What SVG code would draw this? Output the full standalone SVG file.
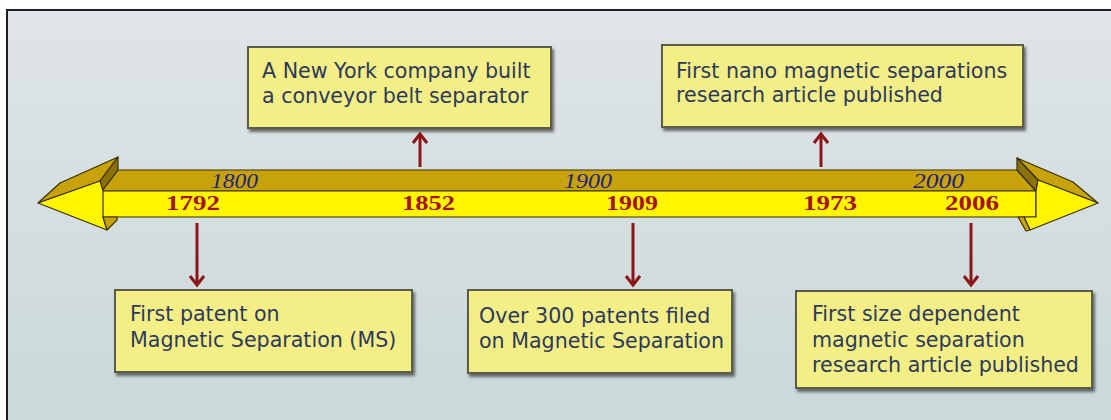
<svg xmlns="http://www.w3.org/2000/svg" width="1111" height="420" viewBox="0 0 1111 420">
<defs>
<linearGradient id="bg" x1="0" y1="0" x2="0" y2="1">
<stop offset="0" stop-color="#e0e5e7"/>
<stop offset="1" stop-color="#c9d8d8"/>
</linearGradient>
<filter id="sh" x="-5%" y="-5%" width="115%" height="130%">
<feDropShadow dx="2" dy="3" stdDeviation="1.5" flood-color="#333" flood-opacity="0.7"/>
</filter>
<marker id="ah" viewBox="0 0 14 16" refX="11" refY="8" markerWidth="14" markerHeight="16" markerUnits="userSpaceOnUse" orient="auto">
<path d="M2,1 L11,8 L2,15" fill="none" stroke="#8b1518" stroke-width="3"/>
</marker>
<style>
.box{fill:#f4ee86;stroke:#5b5b4c;stroke-width:2;filter:url(#sh)}
.t{font-family:"DejaVu Sans",Verdana,sans-serif;font-size:20.6px;fill:#2c3a5c}
.yu{font-family:"Liberation Serif","Times New Roman",serif;font-style:italic;font-size:20px;fill:#22227a}
.yl{font-family:"Liberation Serif","Times New Roman",serif;font-weight:bold;font-size:20px;fill:#a3141c}
.gold{fill:#c8a20a;stroke:#3a3000;stroke-width:1.2;stroke-linejoin:round}
.dk{fill:#8a7008;stroke:#3a3000;stroke-width:1.2;stroke-linejoin:round}
.yel{fill:#fff500;stroke:#3a3000;stroke-width:1.2;stroke-linejoin:round}
.con{stroke:#8b1518;stroke-width:3;fill:none}
</style>
</defs>
<rect x="0" y="0" width="1111" height="420" fill="#ffffff"/>
<rect x="7" y="10" width="1110" height="420" fill="url(#bg)" stroke="#1e1e1e" stroke-width="2"/>

<g id="timeline">
<polygon class="gold" points="118,170 1017,170 1036,191 102,191"/>
<rect class="yel" x="102" y="191" width="934" height="26"/>
<polygon class="gold" points="38,203 60,183 118,157 100,181"/>
<polygon class="dk" points="118,157 118,170 102,191 100,181"/>
<polygon class="yel" points="38,203 100,181 103,191 103,217 107,230"/>
<polygon class="gold" points="107,230 117,220 117,217 103,217"/>
<polygon class="gold" points="1017,158 1073,182 1098,203 1038,180"/>
<polygon class="dk" points="1017,158 1038,180 1036,191 1017,170"/>
<polygon class="yel" points="1036,191 1038,180 1098,203 1030,230 1024,217 1036,217"/>
<polygon class="gold" points="1018,217 1024,217 1030,230 1026,231"/>
<text class="yu" x="211" y="188" textLength="47" lengthAdjust="spacingAndGlyphs">1800</text>
<text class="yu" x="564" y="188" textLength="48" lengthAdjust="spacingAndGlyphs">1900</text>
<text class="yu" x="913" y="188" textLength="51" lengthAdjust="spacingAndGlyphs">2000</text>
<text class="yl" x="166" y="210" textLength="54" lengthAdjust="spacingAndGlyphs">1792</text>
<text class="yl" x="402" y="210" textLength="53" lengthAdjust="spacingAndGlyphs">1852</text>
<text class="yl" x="606" y="210" textLength="52" lengthAdjust="spacingAndGlyphs">1909</text>
<text class="yl" x="803" y="210" textLength="54" lengthAdjust="spacingAndGlyphs">1973</text>
<text class="yl" x="945" y="210" textLength="54" lengthAdjust="spacingAndGlyphs">2006</text>
</g>

<g id="connectors">
<line class="con" x1="197" y1="223" x2="197" y2="285" marker-end="url(#ah)"/>
<line class="con" x1="420" y1="167" x2="420" y2="134" marker-end="url(#ah)"/>
<line class="con" x1="633" y1="223" x2="633" y2="285" marker-end="url(#ah)"/>
<line class="con" x1="821" y1="167" x2="821" y2="134" marker-end="url(#ah)"/>
<line class="con" x1="971" y1="223" x2="971" y2="285" marker-end="url(#ah)"/>
</g>

<g id="n1852">
<rect class="box" x="248" y="47" width="303" height="81"/>
<text class="t" x="262" y="78">A New York company built</text>
<text class="t" x="262" y="103">a conveyor belt separator</text>
</g>
<g id="n1973">
<rect class="box" x="662" y="45" width="361" height="82"/>
<text class="t" x="676" y="78">First nano magnetic separations</text>
<text class="t" x="676" y="102">research article published</text>
</g>
<g id="n1792">
<rect class="box" x="115" y="290" width="297" height="82"/>
<text class="t" x="130" y="321">First patent on</text>
<text class="t" x="130" y="347">Magnetic Separation (MS)</text>
</g>
<g id="n1909">
<rect class="box" x="468" y="290" width="264" height="83"/>
<text class="t" x="479" y="323">Over 300 patents filed</text>
<text class="t" x="479" y="348">on Magnetic Separation</text>
</g>
<g id="n2006">
<rect class="box" x="796" y="291" width="296" height="97"/>
<text class="t" x="812" y="321">First size dependent</text>
<text class="t" x="812" y="347">magnetic separation</text>
<text class="t" x="812" y="372">research article published</text>
</g>
</svg>
